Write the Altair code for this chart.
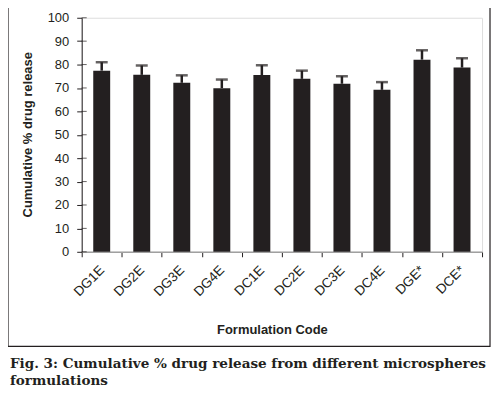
import altair as alt
import pandas as pd

categories = ["DG1E", "DG2E", "DG3E", "DG4E", "DC1E", "DC2E", "DC3E", "DC4E", "DGE*", "DCE*"]
release = [77.4, 75.6, 72.2, 69.9, 75.5, 73.9, 71.8, 69.2, 82.1, 78.7]
error = [3.6, 4.0, 3.2, 3.7, 4.2, 3.5, 3.2, 3.3, 4.0, 4.0]
y_ticks = [0, 10, 20, 30, 40, 50, 60, 70, 80, 90, 100]
caption1 = "Fig. 3: Cumulative % drug release from different microspheres"
caption2 = "formulations"

df = pd.DataFrame({"code": categories, "release": release, "err": error})
df["upper"] = df["release"] + df["err"]

INK = "#231f20"
FONT = "Liberation Sans"

x_axis = alt.Axis(
    title="Formulation Code",
    labelAngle=315,
    labelAlign="right",
    labelBaseline="middle",
    labelOverlap=False,
    labelFont=FONT,
    labelFontSize=13.5,
    labelColor=INK,
    labelPadding=11,
    tickBand="extent",
    tickSize=5,
    tickColor=INK,
    domainColor="#a0a0a0",
    domainWidth=1.5,
    titleFont=FONT,
    titleFontSize=13,
    titleFontWeight="bold",
    titleColor=INK,
    titleX=191,
    titleY=78,
    titleAlign="center",
    titleBaseline="middle",
)
y_axis = alt.Axis(
    title="Cumulative % drug release",
    values=y_ticks,
    grid=False,
    labelOverlap=False,
    labelFont=FONT,
    labelFontSize=13,
    labelColor=INK,
    labelPadding=8,
    tickSize=5,
    tickColor=INK,
    domainColor=INK,
    titleFont=FONT,
    titleFontSize=13,
    titleFontWeight="bold",
    titleColor=INK,
    titleX=-54,
    titleY=117,
    titleAngle=270,
    titleAlign="center",
    titleBaseline="middle",
)
y_scale = alt.Scale(domain=[0, 100], nice=False)
x_scale = alt.Scale(paddingInner=0, paddingOuter=0)

def X():
    return alt.X("code:N", sort=categories, scale=x_scale, axis=x_axis)

def Y(field):
    return alt.Y(field, scale=y_scale, axis=y_axis)

base = alt.Chart(df)
bars = base.mark_bar(size=17, color=INK).encode(x=X(), y=Y("release:Q"))
rules = base.mark_rule(color=INK, strokeWidth=2.5).encode(
    x=X(), y=Y("release:Q"), y2="upper:Q"
)
caps = base.mark_tick(color=INK, size=12, thickness=2.5).encode(
    x=X(), y=Y("upper:Q")
)
inner_ticks = alt.Chart(pd.DataFrame({"t": y_ticks})).mark_tick(
    color=INK, size=5, thickness=1
).encode(x=alt.value(2.5), y=Y("t:Q"))

one = pd.DataFrame({"a": [0]})
border = alt.Chart(one).mark_rect(filled=False, stroke=INK, strokeWidth=1.2).encode(
    x=alt.value(-74), x2=alt.value(410), y=alt.value(-11), y2=alt.value(330)
)
cap1 = alt.Chart(one).mark_text(
    text=caption1, font="DejaVu Serif", fontSize=13.6, fontWeight="bold",
    align="left", baseline="alphabetic", color=INK,
).encode(x=alt.value(-72), y=alt.value(352))
cap2 = alt.Chart(one).mark_text(
    text=caption2, font="DejaVu Serif", fontSize=13.6, fontWeight="bold",
    align="left", baseline="alphabetic", color=INK,
).encode(x=alt.value(-72), y=alt.value(369))

chart = (
    alt.layer(bars, rules, caps, inner_ticks, border, cap1, cap2)
    .properties(
        width=402,
        height=235,
        autosize=alt.AutoSizeParams(type="none"),
        padding={"left": 74, "top": 9, "right": 10, "bottom": 140},
    )
    .configure_view(stroke=None)
    .configure(background="white")
)

chart.save("out.html", embed_options={"renderer": "svg", "actions": False})
